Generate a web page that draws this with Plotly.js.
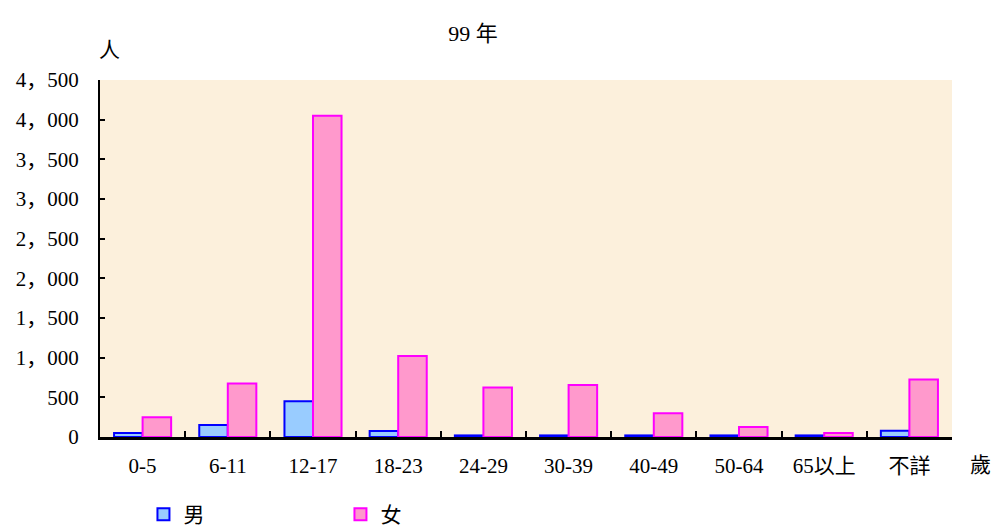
<!DOCTYPE html>
<html>
<head>
<meta charset="utf-8">
<script src="https://cdn.plot.ly/plotly-3.0.1.min.js"></script>
<style>html,body{margin:0;padding:0;background:#fff;}#chart{width:994px;height:530px;}</style>
</head>
<body>
<div id="chart"></div>
<script>
var categories = ["0-5", "6-11", "12-17", "18-23", "24-29", "30-39", "40-49", "50-64", "65以上", "不詳"];
var maleValues = [50, 150, 450, 75, 20, 20, 20, 20, 20, 80];
var femaleValues = [250, 675, 4050, 1020, 625, 655, 300, 125, 50, 725];
var yTickVals = [0, 500, 1000, 1500, 2000, 2500, 3000, 3500, 4000, 4500];
var yTickText = ["0", "500", "1，000", "1，500", "2，000", "2，500", "3，000", "3，500", "4，000", "4，500"];
var seriesNames = ["男", "女"];

var FONT = "Liberation Serif, 'Noto Sans CJK TC', serif";
var YFONT = "Liberation Serif, 'Noto Sans CJK SC', serif";

var traces = [
  {
    type: "bar", name: seriesNames[0], x: categories, y: maleValues,
    marker: {color: "#99CCFF", line: {color: "#0000FF", width: 2}}
  },
  {
    type: "bar", name: seriesNames[1], x: categories, y: femaleValues,
    marker: {color: "#FF99CC", line: {color: "#FF00FF", width: 2}}
  }
];

var layout = {
  width: 994, height: 530,
  margin: {l: 100, r: 42, t: 80, b: 93, autoexpand: false},
  paper_bgcolor: "#FFFFFF",
  plot_bgcolor: "#FCF0DC",
  font: {family: FONT, size: 21, color: "#000"},
  title: {text: "99 年", x: 473 / 994, xanchor: "center", xref: "container", y: 1 - 33 / 530, yanchor: "middle", yref: "container", font: {family: FONT, size: 22, color: "#000"}},
  barmode: "group",
  bargap: 0.33,
  bargroupgap: 0,
  showlegend: true,
  legend: {orientation: "h", x: 0.051, xanchor: "left", y: -0.16, yanchor: "top", entrywidth: 152, entrywidthmode: "pixels", font: {family: FONT, size: 21, color: "#000"}, bgcolor: "rgba(0,0,0,0)", traceorder: "normal"},
  xaxis: {
    type: "category",
    showline: true, linecolor: "#000", linewidth: 2.5,
    ticks: "inside", tickson: "boundaries", ticklen: 6, tickwidth: 2, tickcolor: "#000",
    showgrid: false, zeroline: false,
    tickfont: {family: FONT, size: 21, color: "#000"},
    ticklabelstandoff: 8,
    fixedrange: true
  },
  yaxis: {
    range: [0, 4500],
    tickvals: yTickVals, ticktext: yTickText,
    showline: true, linecolor: "#000", linewidth: 2,
    ticks: "inside", ticklen: 5, tickwidth: 2, tickcolor: "#000",
    showgrid: false, zeroline: false,
    tickfont: {family: YFONT, size: 21, color: "#000"},
    ticklabelstandoff: 15,
    fixedrange: true
  },
  annotations: [
    {text: "人", xref: "paper", yref: "paper", x: (109 - 100) / 852, y: 1 + (80 - 50) / 357, xanchor: "center", yanchor: "middle", showarrow: false, font: {family: FONT, size: 21, color: "#000"}},
    {text: "歲", xref: "paper", yref: "paper", x: (980 - 100) / 852, y: -(465 - 437) / 357, xanchor: "center", yanchor: "middle", showarrow: false, font: {family: FONT, size: 21, color: "#000"}}
  ]
};

Plotly.newPlot("chart", traces, layout, {displayModeBar: false, staticPlot: true});
</script>
</body>
</html>
